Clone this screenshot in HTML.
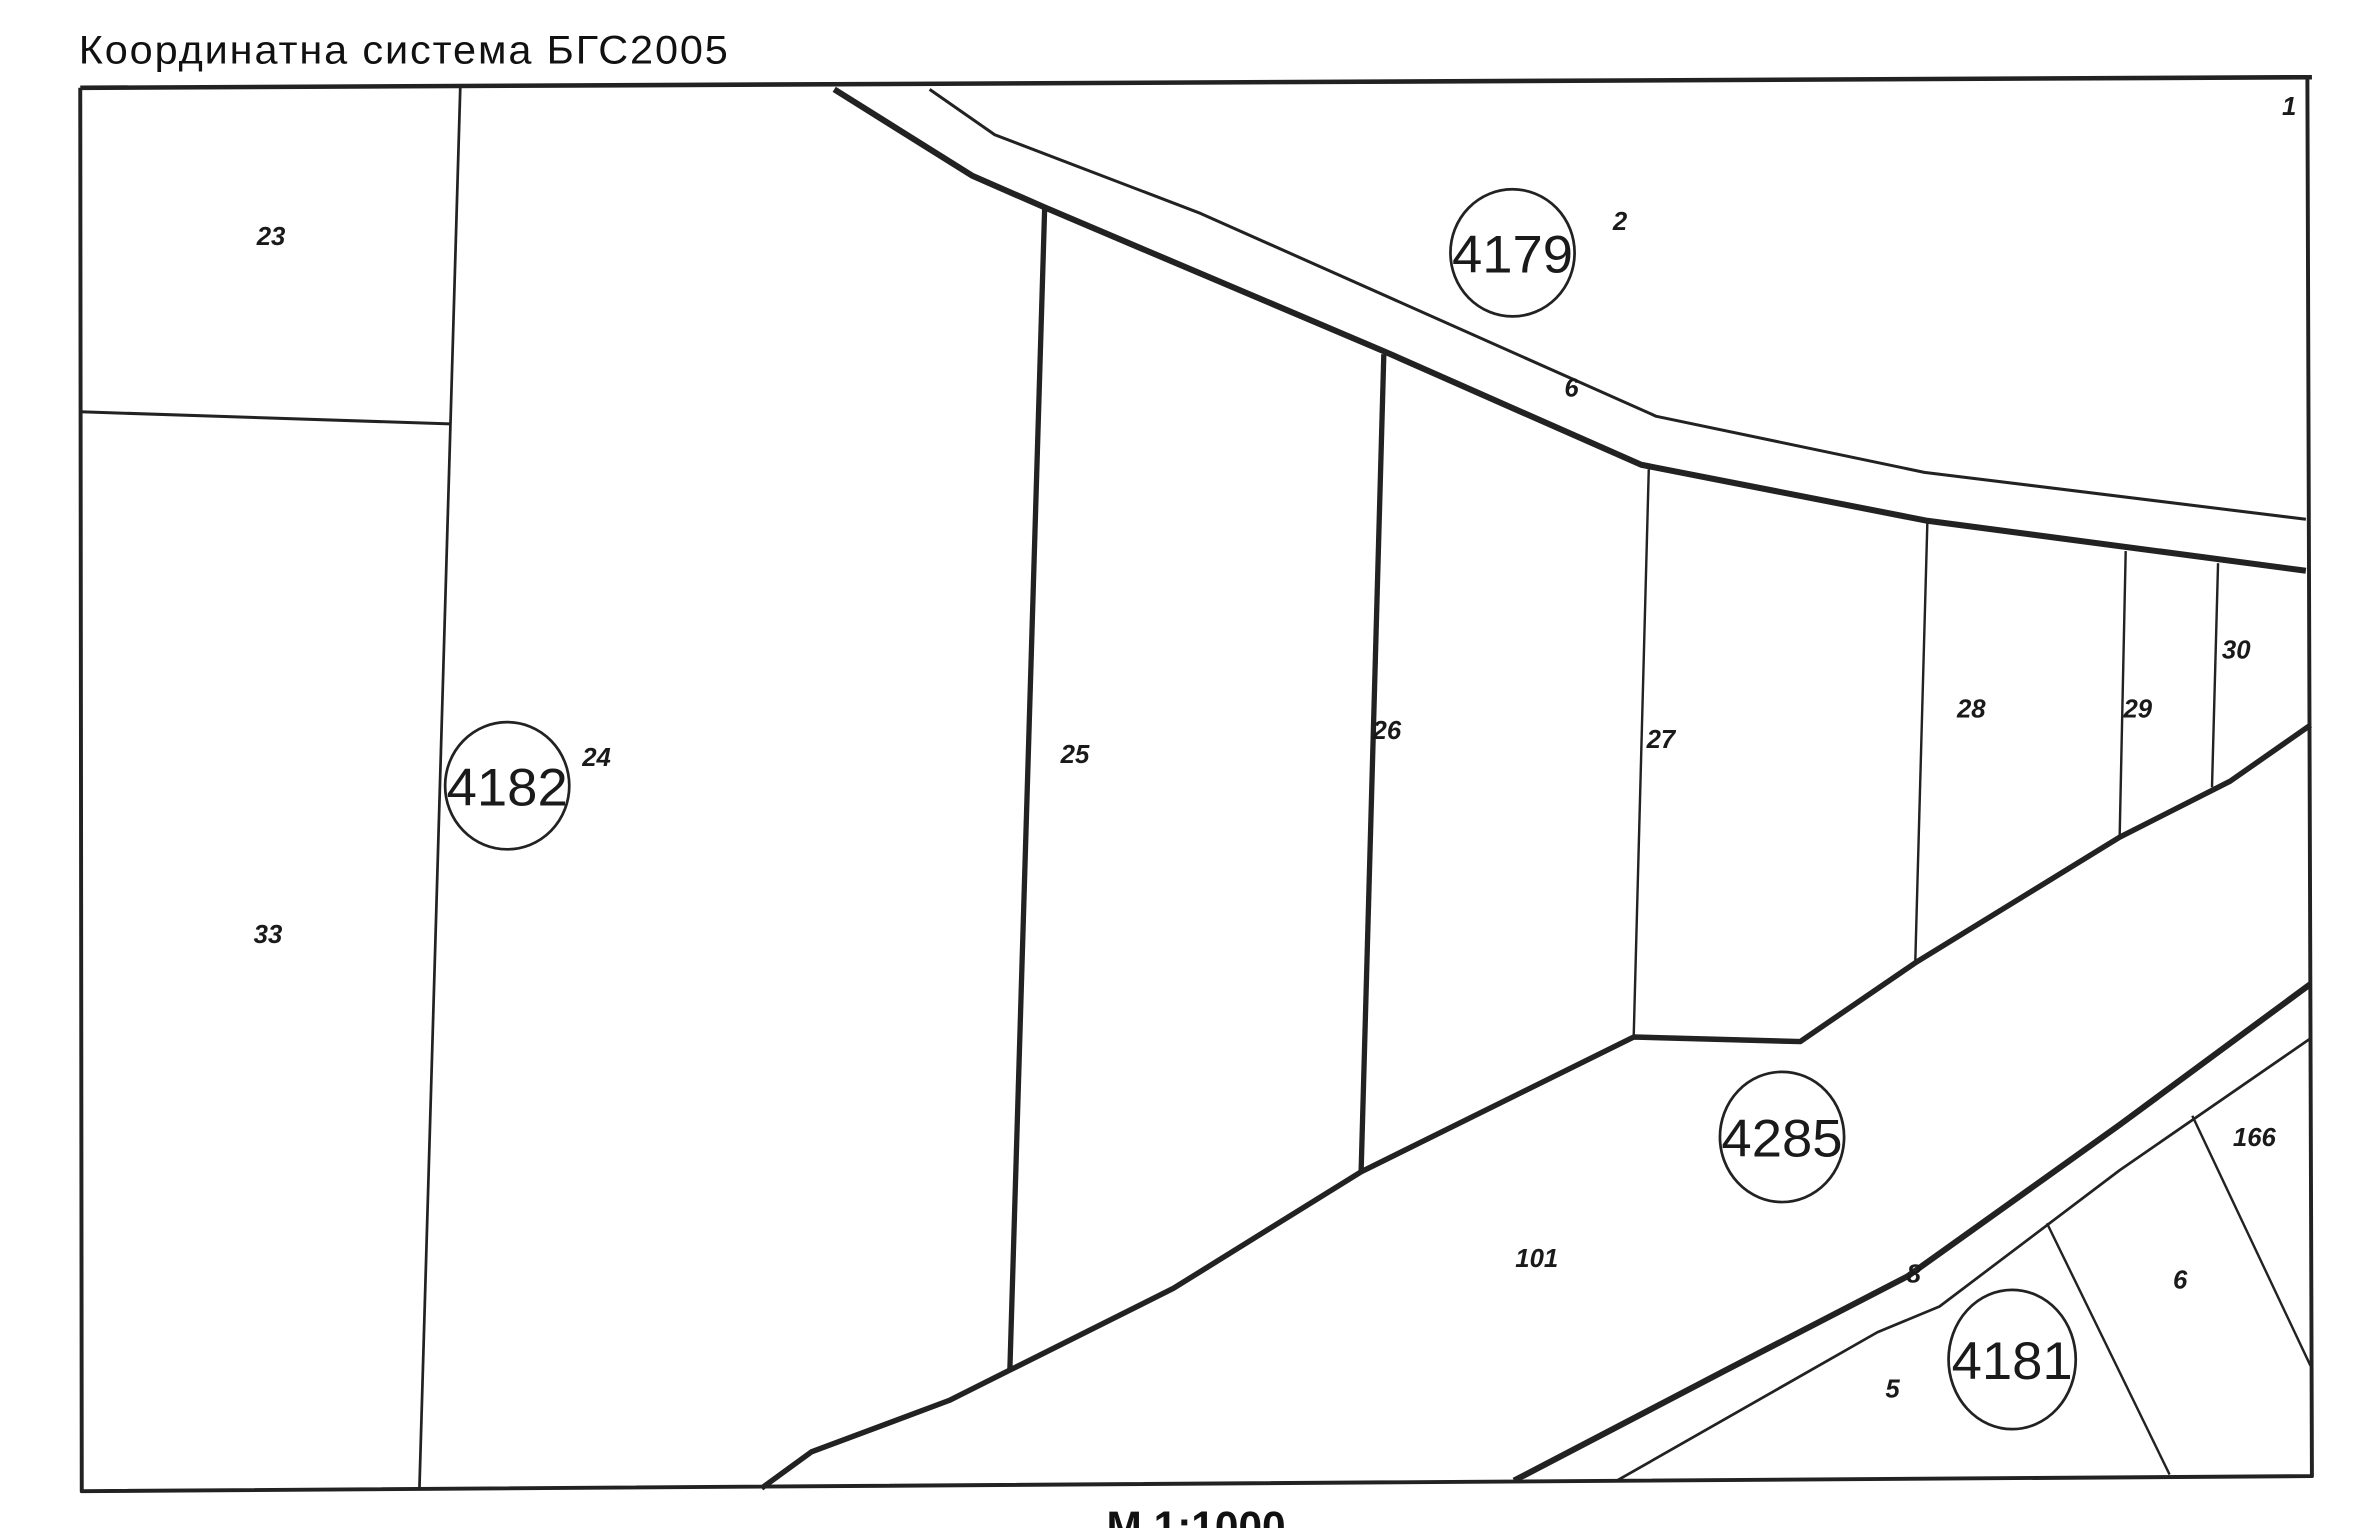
<!DOCTYPE html>
<html><head><meta charset="utf-8"><style>
html,body{margin:0;padding:0;background:#fff;overflow:hidden}
svg{display:block}
.t{font-family:"Liberation Sans",sans-serif;fill:#111}
.l{font-family:"Liberation Sans",sans-serif;font-weight:bold;font-style:italic;font-size:17px;fill:#1a1a1a}
.c{font-family:"Liberation Sans",sans-serif;font-size:35px;fill:#1a1a1a}
</style></head><body>
<svg width="2374" height="1528" viewBox="0 0 1568 1009.3" preserveAspectRatio="none" xmlns="http://www.w3.org/2000/svg">
<rect width="1568" height="1010" fill="#fff"/>
<text class="t" x="52" y="42" font-size="26.5" letter-spacing="1.2" textLength="430" lengthAdjust="spacingAndGlyphs">Координатна система БГС2005</text>
<g fill="none" stroke="#222" stroke-linejoin="round">
<polyline points="53,58 1527,51" stroke-width="3"/>
<polyline points="53,58 54,985 1527,975 1524,51" stroke-width="2.6"/>
<line x1="304" y1="58" x2="277" y2="984" stroke-width="1.8"/>
<line x1="53" y1="272" x2="297" y2="280" stroke-width="2"/>
<polyline points="551,59 642,116 690,137 914,232 1084,307 1273,344 1523,377" stroke-width="4"/>
<polyline points="614,59 657,89 793,141 1094,275 1271,312 1523,343" stroke-width="2"/>
<line x1="690" y1="137" x2="667" y2="905" stroke-width="3.5"/>
<line x1="914" y1="234" x2="899" y2="774" stroke-width="3.5"/>
<line x1="1089" y1="310" x2="1079" y2="686" stroke-width="1.6"/>
<line x1="1273" y1="345" x2="1265" y2="636" stroke-width="1.6"/>
<line x1="1404" y1="364" x2="1400" y2="553" stroke-width="1.6"/>
<line x1="1465" y1="372" x2="1461" y2="520" stroke-width="1.6"/>
<polyline points="503,983 536,959 627,925 667,905 775,851 899,774 1079,685 1189,688 1265,636 1400,553 1473,516 1526,479" stroke-width="3.6"/>
<polyline points="1000,978 1140,905 1260,843 1400,743 1526,650" stroke-width="4"/>
<polyline points="1068,978 1240,880 1281,863 1400,773 1526,686" stroke-width="1.8"/>
<line x1="1448" y1="737" x2="1526" y2="902" stroke-width="1.6"/>
<line x1="1352" y1="808" x2="1433" y2="974" stroke-width="1.6"/>
<ellipse cx="999" cy="167" rx="41" ry="42" stroke-width="1.8"/>
<ellipse cx="335" cy="519" rx="41" ry="42" stroke-width="1.8"/>
<ellipse cx="1177" cy="751" rx="41" ry="43" stroke-width="1.8"/>
<ellipse cx="1329" cy="898" rx="42" ry="46" stroke-width="1.8"/>
</g>
<text class="c" x="999" y="180" text-anchor="middle" textLength="80" lengthAdjust="spacingAndGlyphs">4179</text>
<text class="c" x="335" y="532" text-anchor="middle" textLength="80" lengthAdjust="spacingAndGlyphs">4182</text>
<text class="c" x="1177" y="764" text-anchor="middle" textLength="80" lengthAdjust="spacingAndGlyphs">4285</text>
<text class="c" x="1329" y="911" text-anchor="middle" textLength="80" lengthAdjust="spacingAndGlyphs">4181</text>
<g class="l" text-anchor="middle">
<text x="179" y="162">23</text>
<text x="177" y="623">33</text>
<text x="394" y="506">24</text>
<text x="710" y="504">25</text>
<text x="916" y="488">26</text>
<text x="1097" y="494">27</text>
<text x="1302" y="474">28</text>
<text x="1412" y="474">29</text>
<text x="1477" y="435">30</text>
<text x="1070" y="152">2</text>
<text x="1038" y="262">6</text>
<text x="1015" y="837">101</text>
<text x="1489" y="757">166</text>
<text x="1440" y="851">6</text>
<text x="1264" y="847">8</text>
<text x="1250" y="923">5</text>
<text x="1512" y="76">1</text>
</g>
<text class="t" x="790" y="1018" font-size="28" font-weight="bold" text-anchor="middle">M 1:1000</text>
</svg>
</body></html>
